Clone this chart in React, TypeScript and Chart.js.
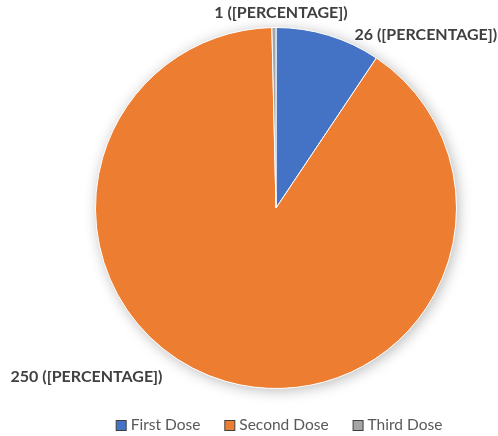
import React, { useEffect, useRef } from "react";
import { Chart, registerables } from "chart.js";

Chart.register(...registerables);

const categories = ["First Dose", "Second Dose", "Third Dose"];
const doseCounts = [26, 250, 1];
const sliceColors = ["#4472C4", "#ED7D31", "#A5A5A5"];
const labelTexts = ["26 ([PERCENTAGE])", "250 ([PERCENTAGE])", "1 ([PERCENTAGE])"];

const FONT = "Lato, 'Open Sans', sans-serif";

const shadowPlugin = {
  id: "pieShadow",
  beforeDatasetsDraw(chart: any) {
    const meta = chart.getDatasetMeta(0);
    const arc = meta.data[0];
    if (!arc) return;
    const { x, y, outerRadius } = arc.getProps(["x", "y", "outerRadius"], true);
    const ctx = chart.ctx;
    ctx.save();
    ctx.shadowColor = "rgba(0,0,0,0.28)";
    ctx.shadowBlur = 14;
    ctx.shadowOffsetX = 2;
    ctx.shadowOffsetY = 2;
    ctx.fillStyle = "#ffffff";
    ctx.beginPath();
    ctx.arc(x, y, outerRadius, 0, Math.PI * 2);
    ctx.fill();
    ctx.restore();
  },
};

const labelPlugin = {
  id: "outsideLabels",
  afterDatasetsDraw(chart: any) {
    const ctx = chart.ctx;
    const meta = chart.getDatasetMeta(0);
    ctx.save();
    ctx.font = `bold 16px ${FONT}`;
    ctx.fillStyle = "#404040";
    ctx.textBaseline = "middle";
    meta.data.forEach((arc: any, i: number) => {
      const { x, y, startAngle, endAngle, outerRadius } = arc.getProps(
        ["x", "y", "startAngle", "endAngle", "outerRadius"],
        true
      );
      const mid = (startAngle + endAngle) / 2;
      const ex = x + Math.cos(mid) * outerRadius;
      const ey = y + Math.sin(mid) * outerRadius;
      const text = labelTexts[i];
      const w = ctx.measureText(text).width;
      let tx: number, ty: number;
      if (i === 0) {
        tx = ex + 26;
        ty = ey;
      } else if (i === 1) {
        tx = ex - 63 - w;
        ty = ey - 4;
      } else {
        tx = ex - w / 2 + 7;
        ty = ey - 15;
      }
      ctx.textAlign = "left";
      ctx.fillText(text, tx, ty);
    });
    ctx.restore();
  },
};

const legendPlugin = {
  id: "customLegend",
  afterDraw(chart: any) {
    const ctx = chart.ctx;
    ctx.save();
    ctx.font = `15.5px ${FONT}`;
    ctx.textBaseline = "middle";
    const box = 10;
    const gapBoxText = 5;
    const gapItems = 24;
    const widths = categories.map((c) => box + gapBoxText + ctx.measureText(c).width);
    const total = widths.reduce((a, b) => a + b, 0) + gapItems * (categories.length - 1);
    let x = chart.width / 2 + 30 - total / 2;
    const y = 425;
    categories.forEach((c, i) => {
      ctx.fillStyle = sliceColors[i];
      ctx.fillRect(x + 0.5, y - box / 2 + 0.5, box, box);
      ctx.strokeStyle = "#404040";
      ctx.lineWidth = 1;
      ctx.strokeRect(x + 0.5, y - box / 2 + 0.5, box, box);
      ctx.fillStyle = "#595959";
      ctx.textAlign = "left";
      ctx.fillText(c, x + box + gapBoxText, y);
      x += widths[i] + gapItems;
    });
    ctx.restore();
  },
};

export default function App() {
  const ref = useRef<HTMLCanvasElement | null>(null);
  useEffect(() => {
    document.body.style.margin = "0";
    const canvas = ref.current;
    if (!canvas) return;
    const chart = new Chart(canvas, {
      type: "pie",
      data: {
        labels: categories,
        datasets: [
          {
            data: doseCounts,
            backgroundColor: sliceColors,
            borderColor: "#ffffff",
            borderWidth: 1,
          },
        ],
      },
      options: {
        responsive: false,
        animation: false,
        layout: { padding: { top: 27, bottom: 47, left: 95, right: 41 } },
        plugins: {
          legend: { display: false },
          tooltip: { enabled: false },
        },
      },
      plugins: [shadowPlugin, labelPlugin, legendPlugin],
    });
    return () => chart.destroy();
  }, []);
  return (
    <div style={{ width: 498, height: 436, background: "#ffffff" }}>
      <canvas ref={ref} width={498} height={436} />
    </div>
  );
}
